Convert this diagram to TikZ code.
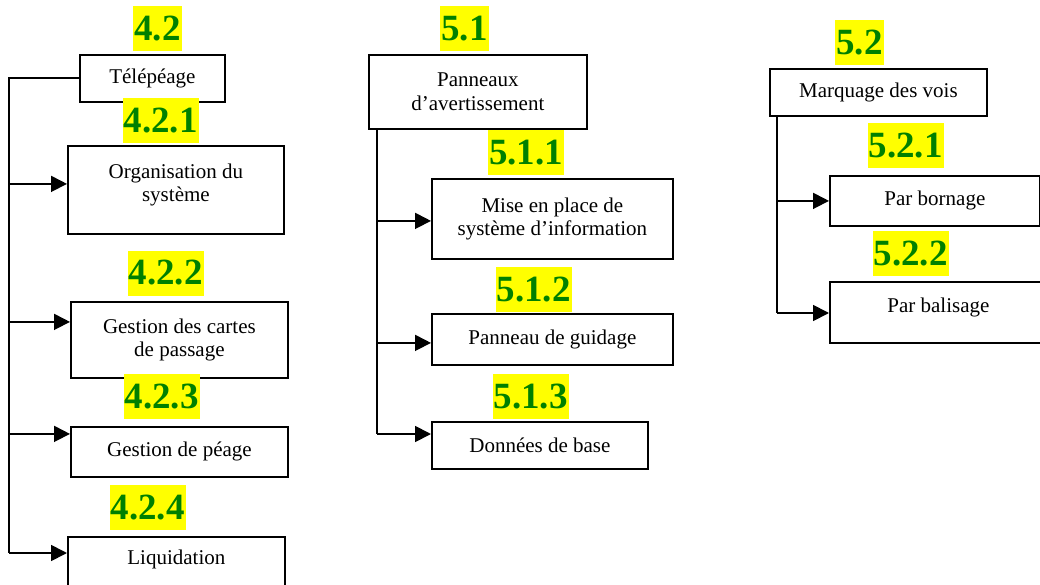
\documentclass[tikz,border=0pt]{standalone}
\usepackage{fontspec}
\setmainfont{Liberation Serif}
\usetikzlibrary{arrows.meta,positioning}
\definecolor{numvert}{RGB}{0,128,0}
\definecolor{surligne}{RGB}{255,255,0}

\begin{document}
\begin{tikzpicture}[x=1pt, y=-1pt,
    texte/.style={align=center, font=\fontsize{21}{23.5}\selectfont},
    boite/.style={draw, line width=1.8pt, inner sep=0pt, anchor=north west, texte},
    numero/.style={fill=surligne, text=numvert, inner xsep=1pt, inner ysep=0pt, minimum height=45pt, font=\fontsize{37}{40}\selectfont\bfseries},
    ligne/.style={line width=1.8pt},
    fleche/.style={line width=1.8pt, -{Triangle[length=16pt,width=16pt]}}]
    \clip (0,0) rectangle (1040,585);

    % Telepeage
    \node[boite, minimum width=145pt, minimum height=47pt] (tele) at (79,54) {Télépéage};
    \node[boite, minimum width=216pt, minimum height=88pt,
          label={[texte, yshift=5pt]center:{Organisation du\\système}}] (org) at (67,145) {};
    \node[boite, minimum width=217pt, minimum height=76pt] (cartes) at (70,301) {Gestion des cartes\\de passage};
    \node[boite, minimum width=217pt, minimum height=50pt] (peage) at (70,426) {Gestion de péage};
    \node[boite, minimum width=217pt, minimum height=54pt,
          label={[texte, yshift=4pt]center:Liquidation}] (liq) at (67,536) {};

    \node[numero] (n42) at (157.5,28.5) {4.2};
    \node[numero] (n421) at (160.5,120.5) {4.2.1};
    \node[numero] (n422) at (165.5,273) {4.2.2};
    \node[numero] (n423) at (161.5,396.5) {4.2.3};
    \node[numero] (n424) at (147.5,507.5) {4.2.4};

    \coordinate (bas1) at (9,553);
    \coordinate (fl1) at ([yshift=6pt]org.west);
    \coordinate (fl2) at ([yshift=18pt]cartes.west);
    \coordinate (fl3) at ([yshift=18pt]peage.west);
    \draw[ligne] (tele.west) -| (bas1);
    \draw[fleche] (bas1 |- fl1) -- (fl1);
    \draw[fleche] (bas1 |- fl2) -- (fl2);
    \draw[fleche] (bas1 |- fl3) -- (fl3);
    \draw[fleche] (bas1) -- (bas1 -| liq.west);

    % Panneaux d'avertissement
    \node[boite, minimum width=218pt, minimum height=74pt] (pann) at (368,54) {Panneaux\\d’avertissement};
    \node[boite, minimum width=241pt, minimum height=80pt] (mise) at (431,178) {Mise en place de\\système d’information};
    \node[boite, minimum width=241pt, minimum height=51pt] (guid) at (431,313) {Panneau de guidage};
    \node[boite, minimum width=216pt, minimum height=47pt] (donn) at (431,421) {Données de base};

    \node[numero] (n51) at (464.5,28.5) {5.1};
    \node[numero] (n511) at (526,152.5) {5.1.1};
    \node[numero] (n512) at (533.5,289.5) {5.1.2};
    \node[numero] (n513) at (530.5,396.5) {5.1.3};

    \coordinate (bas2) at (377,434);
    \coordinate (fl4) at ([yshift=-2pt]mise.west);
    \coordinate (fl5) at ([yshift=-3.5pt]guid.west);
    \draw[ligne] (pann.south -| bas2) -- (bas2);
    \draw[fleche] (bas2 |- fl4) -- (fl4);
    \draw[fleche] (bas2 |- fl5) -- (fl5);
    \draw[fleche] (bas2) -- (bas2 -| donn.west);

    % Marquage des vois
    \node[boite, minimum width=217pt, minimum height=47pt] (marq) at (769,68) {Marquage des vois};
    \node[boite, minimum width=210pt, minimum height=50pt] (born) at (829,175) {Par bornage};
    \node[boite, minimum width=217pt, minimum height=61pt,
          label={[texte, yshift=5pt]center:Par balisage}] (bali) at (829,281) {};

    \node[numero] (n52) at (859.5,42.5) {5.2};
    \node[numero] (n521) at (905.5,145.5) {5.2.1};
    \node[numero] (n522) at (910.5,253.5) {5.2.2};

    \coordinate (bas3) at (777,313);
    \draw[ligne] (marq.south -| bas3) -- (bas3);
    \draw[fleche] (bas3 |- born.west) -- (born.west);
    \draw[fleche] (bas3) -- (bas3 -| bali.west);
\end{tikzpicture}
\end{document}
